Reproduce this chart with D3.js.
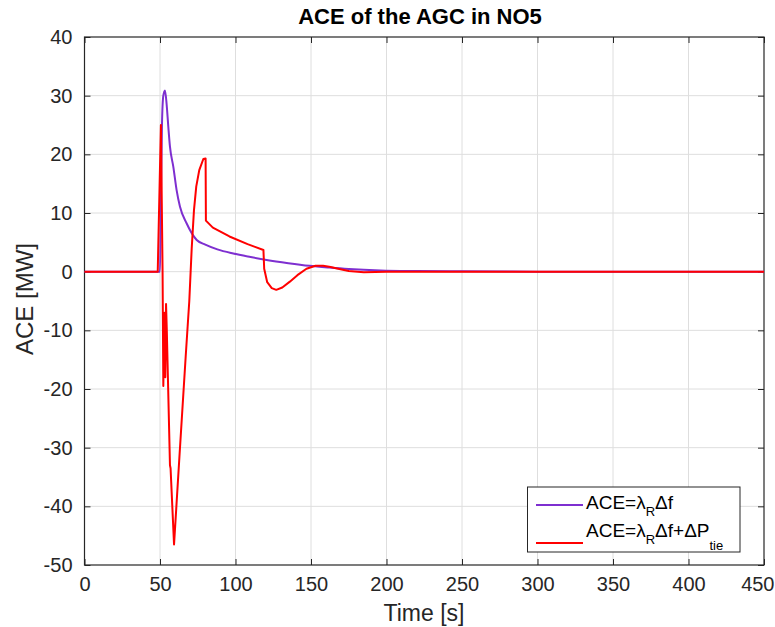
<!DOCTYPE html>
<html lang="en">
<head>
<meta charset="UTF-8">
<title>ACE of the AGC in NO5</title>
<script src="https://d3js.org/d3.v7.min.js"></script>
<style>
    body { margin: 0; background: #fff; }
    svg { display: block; font-family: "Liberation Sans", Arial, sans-serif; }
    .grid line { stroke: #dedede; stroke-width: 1; }
</style>
</head>
<body>
<svg width="775" height="627"></svg>
<script>
// series 1: ACE = lambda_R * delta f
const purpleTime = [0, 50, 50.6, 51.3, 52.2, 53.3, 54.4, 55.5, 56.6, 58.8, 61, 63.2, 67.6, 74.3, 80, 88, 98.5, 110, 120.6, 135, 149, 162, 175, 196, 220, 250, 300, 450];
const purpleAce  = [0, 0, 12, 25, 30, 30.9, 28.5, 24.7, 21.3, 17.9, 13.9, 11.1, 8.25, 5.4, 4.6, 3.8, 3.1, 2.5, 2.0, 1.45, 1.0, 0.7, 0.45, 0.2, 0.1, 0.05, 0, 0];

// series 2: ACE = lambda_R * delta f + delta P_tie
const redTime = [0, 48.5, 50.6, 51.7, 52.2, 53.0, 53.5, 54.0, 54.5, 56.6, 57.0, 59.3, 63, 67, 69.4, 71, 72.5, 74, 76, 78.7, 80.2, 80.4, 85, 96, 108, 118.5, 119, 121, 124, 127, 131, 136, 141, 147, 153, 158, 163, 168, 175, 185, 200, 450];
const redAce  = [0, 0, 25, 0, -19.5, -7, -18, -5.5, -10, -33, -33.5, -46.5, -31, -14.5, -5, 4, 10.5, 14.5, 17.3, 19.2, 19.3, 8.7, 7.5, 6.0, 4.7, 3.7, 0.5, -1.8, -2.8, -3.1, -2.7, -1.7, -0.6, 0.5, 1.0, 1.0, 0.8, 0.5, 0.1, -0.1, 0, 0];

const xTicks = [0, 50, 100, 150, 200, 250, 300, 350, 400, 450];
const yTicks = [-50, -40, -30, -20, -10, 0, 10, 20, 30, 40];

const svg = d3.select("svg");
const plotLeft = 84.5, plotRight = 764, plotTop = 37, plotBottom = 565;

const x = d3.scaleLinear().domain([0, 450]).range([plotLeft, plotRight]);
const y = d3.scaleLinear().domain([-50, 40]).range([plotBottom, plotTop]);

// grid
const grid = svg.append("g").attr("class", "grid");
grid.selectAll(".gx").data(xTicks.slice(1, -1)).enter().append("line")
    .attr("x1", d => x(d)).attr("x2", d => x(d)).attr("y1", plotTop).attr("y2", plotBottom);
grid.selectAll(".gy").data(yTicks.slice(1, -1)).enter().append("line")
    .attr("x1", plotLeft).attr("x2", plotRight).attr("y1", d => y(d)).attr("y2", d => y(d));

// axes with inward ticks on all four sides
const axisColor = "#262626";
const styleAxis = g => {
    g.select(".domain").remove();
    g.selectAll(".tick line").attr("stroke", axisColor);
    g.selectAll(".tick text").attr("fill", axisColor).style("font-size", "20px");
};
const xAxis = svg.append("g").attr("transform", `translate(0,${plotBottom})`)
    .call(d3.axisBottom(x).tickValues(xTicks).tickSizeInner(-6).tickSizeOuter(0).tickPadding(12).tickFormat(d => String(d)))
    .call(styleAxis);
// last label sits at the window edge, keep it inside
xAxis.selectAll(".tick text").filter(d => d === 450).attr("text-anchor", "end").attr("dx", 10);

svg.append("g").attr("transform", `translate(0,${plotTop})`)
    .call(d3.axisTop(x).tickValues(xTicks).tickSizeInner(-6).tickSizeOuter(0).tickFormat(""))
    .call(styleAxis);
svg.append("g").attr("transform", `translate(${plotLeft},0)`)
    .call(d3.axisLeft(y).tickValues(yTicks).tickSizeInner(-6).tickSizeOuter(0).tickPadding(12).tickFormat(d => String(d)))
    .call(styleAxis);
svg.append("g").attr("transform", `translate(${plotRight},0)`)
    .call(d3.axisRight(y).tickValues(yTicks).tickSizeInner(-6).tickSizeOuter(0).tickFormat(""))
    .call(styleAxis);

svg.append("rect")
    .attr("x", plotLeft).attr("y", plotTop).attr("width", plotRight - plotLeft).attr("height", plotBottom - plotTop)
    .attr("fill", "none").attr("stroke", axisColor).attr("stroke-width", 1.2);

// lines
const purpleLine = d3.line().x(d => x(d[0])).y(d => y(d[1])).curve(d3.curveMonotoneX);
const redLine = d3.line().x(d => x(d[0])).y(d => y(d[1]));

svg.append("path")
    .datum(d3.zip(purpleTime, purpleAce))
    .attr("d", purpleLine)
    .attr("fill", "none").attr("stroke", "#7e2fd0").attr("stroke-width", 2);
svg.append("path")
    .datum(d3.zip(redTime, redAce))
    .attr("d", redLine)
    .attr("fill", "none").attr("stroke", "#ff0000").attr("stroke-width", 2).attr("stroke-linejoin", "round");

// titles
svg.append("text")
    .attr("x", 420).attr("y", 24)
    .attr("text-anchor", "middle")
    .style("font-size", "22px").style("font-weight", "bold").attr("fill", "#000")
    .text("ACE of the AGC in NO5");

svg.append("text")
    .attr("x", 424).attr("y", 621)
    .attr("text-anchor", "middle")
    .style("font-size", "23px").attr("fill", axisColor)
    .text("Time [s]");

svg.append("text")
    .attr("transform", `translate(33,299) rotate(-90)`)
    .attr("text-anchor", "middle")
    .style("font-size", "24px").attr("fill", axisColor)
    .text("ACE [MW]");

// legend
const legend = svg.append("g");
legend.append("rect")
    .attr("x", 527.5).attr("y", 487).attr("width", 212.5).attr("height", 65)
    .attr("fill", "#fff").attr("stroke", axisColor).attr("stroke-width", 1);

const entries = [
    { color: "#7e2fd0", lineY: 505, textY: 509, tie: false },
    { color: "#ff0000", lineY: 543, textY: 537, tie: true }
];
entries.forEach(e => {
    legend.append("line")
        .attr("x1", 536).attr("x2", 583).attr("y1", e.lineY).attr("y2", e.lineY)
        .attr("stroke", e.color).attr("stroke-width", 2);
    const t = legend.append("text")
        .attr("x", 586).attr("y", e.textY)
        .style("font-size", "19px").attr("fill", "#000");
    t.append("tspan").text("ACE=λ");
    t.append("tspan").attr("dy", 7).style("font-size", "13px").text("R");
    t.append("tspan").attr("dy", -7).text(e.tie ? "Δf+ΔP" : "Δf");
    if (e.tie) t.append("tspan").attr("dy", 13).style("font-size", "13px").text("tie");
});
</script>
</body>
</html>
